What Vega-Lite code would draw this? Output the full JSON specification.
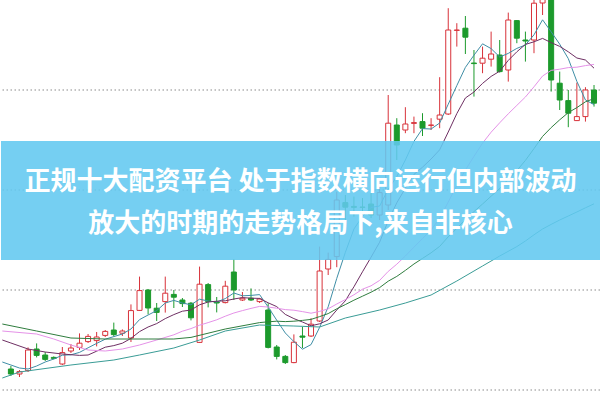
{
  "$schema": "https://vega.github.io/schema/vega-lite/v6.json",
  "width": 601,
  "height": 401,
  "padding": 0,
  "autosize": {"type": "fit", "contains": "padding"},
  "background": "white",
  "config": {"view": {"stroke": null}, "axisX": {"disable": true}, "axisY": {"disable": true}},
  "datasets": {
    "grid": [{"p": 5.5}, {"p": 5.0}, {"p": 4.5}, {"p": 4.0}],
    "banner": [{"top": 5.245, "bottom": 4.65}],
    "title": [
      {"line": "正规十大配资平台 处于指数横向运行但内部波动", "p": 5.04},
      {"line": "放大的时期的走势格局下,来自非核心", "p": 4.83}
    ],
    "candles": [
      {"i":0,"o":4.105,"c":4.08,"h":4.12,"l":4.07},
      {"i":1,"o":4.08,"c":4.092,"h":4.1,"l":4.065},
      {"i":2,"o":4.097,"c":4.2,"h":4.213,"l":4.09},
      {"i":3,"o":4.205,"c":4.173,"h":4.233,"l":4.163},
      {"i":4,"o":4.175,"c":4.153,"h":4.19,"l":4.145},
      {"i":5,"o":4.163,"c":4.158,"h":4.168,"l":4.153},
      {"i":6,"o":4.13,"c":4.187,"h":4.215,"l":4.125},
      {"i":7,"o":4.195,"c":4.21,"h":4.23,"l":4.185},
      {"i":8,"o":4.213,"c":4.234,"h":4.283,"l":4.2},
      {"i":9,"o":4.242,"c":4.268,"h":4.28,"l":4.235},
      {"i":10,"o":4.247,"c":4.265,"h":4.29,"l":4.218},
      {"i":11,"o":4.273,"c":4.293,"h":4.3,"l":4.265},
      {"i":12,"o":4.3,"c":4.277,"h":4.337,"l":4.267},
      {"i":13,"o":4.284,"c":4.295,"h":4.303,"l":4.27},
      {"i":14,"o":4.26,"c":4.397,"h":4.428,"l":4.24},
      {"i":15,"o":4.398,"c":4.497,"h":4.567,"l":4.395},
      {"i":16,"o":4.5,"c":4.41,"h":4.505,"l":4.378},
      {"i":17,"o":4.409,"c":4.388,"h":4.435,"l":4.345},
      {"i":18,"o":4.442,"c":4.484,"h":4.567,"l":4.387},
      {"i":19,"o":4.478,"c":4.464,"h":4.5,"l":4.41},
      {"i":20,"o":4.45,"c":4.432,"h":4.46,"l":4.415},
      {"i":21,"o":4.434,"c":4.361,"h":4.44,"l":4.348},
      {"i":22,"o":4.238,"c":4.529,"h":4.617,"l":4.235},
      {"i":23,"o":4.527,"c":4.442,"h":4.535,"l":4.413},
      {"i":24,"o":4.44,"c":4.435,"h":4.465,"l":4.388},
      {"i":25,"o":4.437,"c":4.519,"h":4.546,"l":4.433},
      {"i":26,"o":4.59,"c":4.5,"h":4.655,"l":4.45},
      {"i":27,"o":4.45,"c":4.459,"h":4.49,"l":4.445},
      {"i":28,"o":4.459,"c":4.45,"h":4.508,"l":4.445},
      {"i":29,"o":4.442,"c":4.455,"h":4.46,"l":4.435},
      {"i":30,"o":4.4,"c":4.213,"h":4.434,"l":4.208},
      {"i":31,"o":4.215,"c":4.168,"h":4.225,"l":4.153},
      {"i":32,"o":4.168,"c":4.137,"h":4.175,"l":4.13},
      {"i":33,"o":4.137,"c":4.239,"h":4.278,"l":4.134},
      {"i":34,"o":4.27,"c":4.264,"h":4.315,"l":4.21},
      {"i":35,"o":4.27,"c":4.329,"h":4.359,"l":4.265},
      {"i":36,"o":4.345,"c":4.595,"h":4.717,"l":4.34},
      {"i":37,"o":4.605,"c":4.653,"h":4.687,"l":4.575},
      {"i":38,"o":4.667,"c":4.95,"h":4.992,"l":4.614},
      {"i":39,"o":4.937,"c":4.914,"h":4.975,"l":4.85},
      {"i":40,"o":4.918,"c":4.913,"h":4.967,"l":4.867},
      {"i":41,"o":4.915,"c":4.913,"h":4.96,"l":4.875},
      {"i":42,"o":4.93,"c":4.875,"h":4.985,"l":4.86},
      {"i":43,"o":4.875,"c":4.987,"h":5.025,"l":4.85},
      {"i":44,"o":4.925,"c":5.334,"h":5.475,"l":4.9},
      {"i":45,"o":5.325,"c":5.225,"h":5.359,"l":5.15},
      {"i":46,"o":5.3,"c":5.33,"h":5.414,"l":5.284},
      {"i":47,"o":5.333,"c":5.337,"h":5.367,"l":5.284},
      {"i":48,"o":5.342,"c":5.309,"h":5.384,"l":5.27},
      {"i":49,"o":5.323,"c":5.325,"h":5.359,"l":5.3},
      {"i":50,"o":5.354,"c":5.375,"h":5.564,"l":5.309},
      {"i":51,"o":5.38,"c":5.8,"h":5.909,"l":5.375},
      {"i":52,"o":5.798,"c":5.8,"h":5.834,"l":5.717},
      {"i":53,"o":5.809,"c":5.764,"h":5.87,"l":5.68},
      {"i":54,"o":5.635,"c":5.632,"h":5.7,"l":5.467},
      {"i":55,"o":5.634,"c":5.659,"h":5.717,"l":5.584},
      {"i":56,"o":5.654,"c":5.68,"h":5.792,"l":5.617},
      {"i":57,"o":5.675,"c":5.592,"h":5.75,"l":5.587},
      {"i":58,"o":5.6,"c":5.85,"h":5.887,"l":5.542},
      {"i":59,"o":5.847,"c":5.759,"h":5.85,"l":5.734},
      {"i":60,"o":5.75,"c":5.745,"h":5.792,"l":5.642},
      {"i":61,"o":5.75,"c":5.934,"h":5.965,"l":5.684},
      {"i":62,"o":5.935,"c":5.965,"h":5.99,"l":5.875},
      {"i":63,"o":5.975,"c":5.55,"h":6.0,"l":5.492},
      {"i":64,"o":5.534,"c":5.45,"h":5.592,"l":5.4},
      {"i":65,"o":5.447,"c":5.384,"h":5.5,"l":5.314},
      {"i":66,"o":5.347,"c":5.367,"h":5.537,"l":5.345},
      {"i":67,"o":5.367,"c":5.5,"h":5.514,"l":5.342},
      {"i":68,"o":5.5,"c":5.434,"h":5.525,"l":5.417}
    ],
    "ma": [
      {"ma":"MA5","i":-1,"p":4.14},{"ma":"MA5","i":0,"p":4.125},{"ma":"MA5","i":1,"p":4.11},{"ma":"MA5","i":2,"p":4.105},{"ma":"MA5","i":3,"p":4.12},{"ma":"MA5","i":4,"p":4.14},{"ma":"MA5","i":5,"p":4.155},{"ma":"MA5","i":6,"p":4.174},{"ma":"MA5","i":7,"p":4.176},{"ma":"MA5","i":8,"p":4.188},{"ma":"MA5","i":9,"p":4.211},{"ma":"MA5","i":10,"p":4.233},{"ma":"MA5","i":11,"p":4.254},{"ma":"MA5","i":12,"p":4.267},{"ma":"MA5","i":13,"p":4.28},{"ma":"MA5","i":14,"p":4.305},{"ma":"MA5","i":15,"p":4.352},{"ma":"MA5","i":16,"p":4.375},{"ma":"MA5","i":17,"p":4.397},{"ma":"MA5","i":18,"p":4.435},{"ma":"MA5","i":19,"p":4.448},{"ma":"MA5","i":20,"p":4.435},{"ma":"MA5","i":21,"p":4.426},{"ma":"MA5","i":22,"p":4.454},{"ma":"MA5","i":23,"p":4.445},{"ma":"MA5","i":24,"p":4.44},{"ma":"MA5","i":25,"p":4.457},{"ma":"MA5","i":26,"p":4.485},{"ma":"MA5","i":27,"p":4.471},{"ma":"MA5","i":28,"p":4.473},{"ma":"MA5","i":29,"p":4.477},{"ma":"MA5","i":30,"p":4.415},{"ma":"MA5","i":31,"p":4.349},{"ma":"MA5","i":32,"p":4.285},{"ma":"MA5","i":33,"p":4.242},{"ma":"MA5","i":34,"p":4.204},{"ma":"MA5","i":35,"p":4.227},{"ma":"MA5","i":36,"p":4.313},{"ma":"MA5","i":37,"p":4.416},{"ma":"MA5","i":38,"p":4.558},{"ma":"MA5","i":39,"p":4.688},{"ma":"MA5","i":40,"p":4.805},{"ma":"MA5","i":41,"p":4.868},{"ma":"MA5","i":42,"p":4.913},{"ma":"MA5","i":43,"p":4.92},{"ma":"MA5","i":44,"p":5.004},{"ma":"MA5","i":45,"p":5.067},{"ma":"MA5","i":46,"p":5.15},{"ma":"MA5","i":47,"p":5.243},{"ma":"MA5","i":48,"p":5.307},{"ma":"MA5","i":49,"p":5.305},{"ma":"MA5","i":50,"p":5.335},{"ma":"MA5","i":51,"p":5.429},{"ma":"MA5","i":52,"p":5.522},{"ma":"MA5","i":53,"p":5.613},{"ma":"MA5","i":54,"p":5.674},{"ma":"MA5","i":55,"p":5.731},{"ma":"MA5","i":56,"p":5.707},{"ma":"MA5","i":57,"p":5.665},{"ma":"MA5","i":58,"p":5.683},{"ma":"MA5","i":59,"p":5.708},{"ma":"MA5","i":60,"p":5.725},{"ma":"MA5","i":61,"p":5.776},{"ma":"MA5","i":62,"p":5.851},{"ma":"MA5","i":63,"p":5.791},{"ma":"MA5","i":64,"p":5.729},{"ma":"MA5","i":65,"p":5.657},{"ma":"MA5","i":66,"p":5.543},{"ma":"MA5","i":67,"p":5.45},{"ma":"MA5","i":68,"p":5.427},
      {"ma":"MA10","i":-1,"p":4.25},{"ma":"MA10","i":0,"p":4.235},{"ma":"MA10","i":2,"p":4.205},{"ma":"MA10","i":4,"p":4.19},{"ma":"MA10","i":6,"p":4.18},{"ma":"MA10","i":8,"p":4.173},{"ma":"MA10","i":9,"p":4.175},{"ma":"MA10","i":10,"p":4.194},{"ma":"MA10","i":11,"p":4.214},{"ma":"MA10","i":12,"p":4.222},{"ma":"MA10","i":13,"p":4.234},{"ma":"MA10","i":14,"p":4.258},{"ma":"MA10","i":15,"p":4.292},{"ma":"MA10","i":16,"p":4.315},{"ma":"MA10","i":17,"p":4.332},{"ma":"MA10","i":18,"p":4.357},{"ma":"MA10","i":19,"p":4.377},{"ma":"MA10","i":20,"p":4.394},{"ma":"MA10","i":21,"p":4.4},{"ma":"MA10","i":22,"p":4.426},{"ma":"MA10","i":23,"p":4.44},{"ma":"MA10","i":24,"p":4.444},{"ma":"MA10","i":25,"p":4.446},{"ma":"MA10","i":26,"p":4.455},{"ma":"MA10","i":27,"p":4.462},{"ma":"MA10","i":28,"p":4.459},{"ma":"MA10","i":29,"p":4.458},{"ma":"MA10","i":30,"p":4.436},{"ma":"MA10","i":31,"p":4.417},{"ma":"MA10","i":32,"p":4.378},{"ma":"MA10","i":33,"p":4.357},{"ma":"MA10","i":34,"p":4.34},{"ma":"MA10","i":35,"p":4.321},{"ma":"MA10","i":36,"p":4.331},{"ma":"MA10","i":37,"p":4.35},{"ma":"MA10","i":38,"p":4.4},{"ma":"MA10","i":39,"p":4.446},{"ma":"MA10","i":40,"p":4.516},{"ma":"MA10","i":41,"p":4.591},{"ma":"MA10","i":42,"p":4.664},{"ma":"MA10","i":43,"p":4.739},{"ma":"MA10","i":44,"p":4.846},{"ma":"MA10","i":45,"p":4.936},{"ma":"MA10","i":46,"p":5.009},{"ma":"MA10","i":47,"p":5.078},{"ma":"MA10","i":48,"p":5.114},{"ma":"MA10","i":49,"p":5.155},{"ma":"MA10","i":50,"p":5.201},{"ma":"MA10","i":51,"p":5.29},{"ma":"MA10","i":52,"p":5.382},{"ma":"MA10","i":53,"p":5.46},{"ma":"MA10","i":54,"p":5.49},{"ma":"MA10","i":55,"p":5.533},{"ma":"MA10","i":56,"p":5.568},{"ma":"MA10","i":57,"p":5.594},{"ma":"MA10","i":58,"p":5.648},{"ma":"MA10","i":59,"p":5.691},{"ma":"MA10","i":60,"p":5.728},{"ma":"MA10","i":61,"p":5.741},{"ma":"MA10","i":62,"p":5.758},{"ma":"MA10","i":63,"p":5.737},{"ma":"MA10","i":64,"p":5.718},{"ma":"MA10","i":65,"p":5.691},{"ma":"MA10","i":66,"p":5.66},{"ma":"MA10","i":67,"p":5.65},{"ma":"MA10","i":68,"p":5.609},
      {"ma":"MA20","i":-1,"p":4.295},{"ma":"MA20","i":3,"p":4.28},{"ma":"MA20","i":5,"p":4.255},{"ma":"MA20","i":7,"p":4.225},{"ma":"MA20","i":9,"p":4.2},{"ma":"MA20","i":11,"p":4.195},{"ma":"MA20","i":13,"p":4.205},{"ma":"MA20","i":15,"p":4.225},{"ma":"MA20","i":17,"p":4.25},{"ma":"MA20","i":19,"p":4.276},{"ma":"MA20","i":20,"p":4.294},{"ma":"MA20","i":21,"p":4.307},{"ma":"MA20","i":22,"p":4.324},{"ma":"MA20","i":23,"p":4.337},{"ma":"MA20","i":24,"p":4.351},{"ma":"MA20","i":25,"p":4.369},{"ma":"MA20","i":26,"p":4.385},{"ma":"MA20","i":27,"p":4.397},{"ma":"MA20","i":28,"p":4.408},{"ma":"MA20","i":29,"p":4.418},{"ma":"MA20","i":30,"p":4.415},{"ma":"MA20","i":31,"p":4.409},{"ma":"MA20","i":32,"p":4.402},{"ma":"MA20","i":33,"p":4.399},{"ma":"MA20","i":34,"p":4.392},{"ma":"MA20","i":35,"p":4.384},{"ma":"MA20","i":36,"p":4.393},{"ma":"MA20","i":37,"p":4.406},{"ma":"MA20","i":38,"p":4.43},{"ma":"MA20","i":39,"p":4.452},{"ma":"MA20","i":40,"p":4.476},{"ma":"MA20","i":41,"p":4.504},{"ma":"MA20","i":42,"p":4.521},{"ma":"MA20","i":43,"p":4.548},{"ma":"MA20","i":44,"p":4.593},{"ma":"MA20","i":45,"p":4.629},{"ma":"MA20","i":46,"p":4.67},{"ma":"MA20","i":47,"p":4.714},{"ma":"MA20","i":48,"p":4.757},{"ma":"MA20","i":49,"p":4.8},{"ma":"MA20","i":50,"p":4.859},{"ma":"MA20","i":51,"p":4.94},{"ma":"MA20","i":52,"p":5.023},{"ma":"MA20","i":53,"p":5.1},{"ma":"MA20","i":54,"p":5.168},{"ma":"MA20","i":55,"p":5.234},{"ma":"MA20","i":56,"p":5.289},{"ma":"MA20","i":57,"p":5.336},{"ma":"MA20","i":58,"p":5.381},{"ma":"MA20","i":59,"p":5.423},{"ma":"MA20","i":60,"p":5.465},{"ma":"MA20","i":61,"p":5.516},{"ma":"MA20","i":62,"p":5.57},{"ma":"MA20","i":63,"p":5.598},{"ma":"MA20","i":64,"p":5.604},{"ma":"MA20","i":65,"p":5.612},{"ma":"MA20","i":66,"p":5.614},{"ma":"MA20","i":67,"p":5.622},{"ma":"MA20","i":68,"p":5.628},
      {"ma":"MA30","i":-1,"p":4.33},{"ma":"MA30","i":3,"p":4.295},{"ma":"MA30","i":7,"p":4.26},{"ma":"MA30","i":11,"p":4.255},{"ma":"MA30","i":16,"p":4.255},{"ma":"MA30","i":19,"p":4.255},{"ma":"MA30","i":21,"p":4.263},{"ma":"MA30","i":25,"p":4.305},{"ma":"MA30","i":29,"p":4.337},{"ma":"MA30","i":30,"p":4.341},{"ma":"MA30","i":31,"p":4.344},{"ma":"MA30","i":32,"p":4.342},{"ma":"MA30","i":33,"p":4.344},{"ma":"MA30","i":34,"p":4.348},{"ma":"MA30","i":35,"p":4.353},{"ma":"MA30","i":36,"p":4.367},{"ma":"MA30","i":37,"p":4.382},{"ma":"MA30","i":38,"p":4.406},{"ma":"MA30","i":39,"p":4.427},{"ma":"MA30","i":40,"p":4.449},{"ma":"MA30","i":41,"p":4.469},{"ma":"MA30","i":42,"p":4.489},{"ma":"MA30","i":43,"p":4.512},{"ma":"MA30","i":44,"p":4.544},{"ma":"MA30","i":45,"p":4.568},{"ma":"MA30","i":46,"p":4.598},{"ma":"MA30","i":47,"p":4.63},{"ma":"MA30","i":48,"p":4.658},{"ma":"MA30","i":49,"p":4.686},{"ma":"MA30","i":50,"p":4.718},{"ma":"MA30","i":51,"p":4.766},{"ma":"MA30","i":52,"p":4.808},{"ma":"MA30","i":53,"p":4.852},{"ma":"MA30","i":54,"p":4.892},{"ma":"MA30","i":55,"p":4.93},{"ma":"MA30","i":56,"p":4.969},{"ma":"MA30","i":57,"p":5.007},{"ma":"MA30","i":58,"p":5.054},{"ma":"MA30","i":59,"p":5.097},{"ma":"MA30","i":60,"p":5.148},{"ma":"MA30","i":61,"p":5.207},{"ma":"MA30","i":62,"p":5.268},{"ma":"MA30","i":63,"p":5.312},{"ma":"MA30","i":64,"p":5.351},{"ma":"MA30","i":65,"p":5.387},{"ma":"MA30","i":66,"p":5.412},{"ma":"MA30","i":67,"p":5.441},{"ma":"MA30","i":68,"p":5.457},
      {"ma":"MA60","i":-1,"p":4.06},{"ma":"MA60","i":1,"p":4.09},{"ma":"MA60","i":7,"p":4.125},{"ma":"MA60","i":12,"p":4.15},{"ma":"MA60","i":15,"p":4.175},{"ma":"MA60","i":19,"p":4.21},{"ma":"MA60","i":22,"p":4.25},{"ma":"MA60","i":25,"p":4.295},{"ma":"MA60","i":29,"p":4.325},{"ma":"MA60","i":33,"p":4.32},{"ma":"MA60","i":36,"p":4.315},{"ma":"MA60","i":39,"p":4.36},{"ma":"MA60","i":43,"p":4.4},{"ma":"MA60","i":46,"p":4.435},{"ma":"MA60","i":49,"p":4.475},{"ma":"MA60","i":52,"p":4.545},{"ma":"MA60","i":55,"p":4.62},{"ma":"MA60","i":57,"p":4.67},{"ma":"MA60","i":59,"p":4.717},{"ma":"MA60","i":60,"p":4.745},{"ma":"MA60","i":61,"p":4.776},{"ma":"MA60","i":62,"p":4.805},{"ma":"MA60","i":63,"p":4.828},{"ma":"MA60","i":64,"p":4.85},{"ma":"MA60","i":65,"p":4.87},{"ma":"MA60","i":66,"p":4.89},{"ma":"MA60","i":67,"p":4.911},{"ma":"MA60","i":68,"p":4.931}
    ]
  },
  "layer": [
    {
      "data": {"name": "grid"},
      "mark": {"type": "rule", "stroke": "#8a8a8a", "strokeWidth": 1, "strokeDash": [1.5, 2.5]},
      "encoding": {
        "y": {"field": "p", "type": "quantitative", "axis": null, "scale": {"domain": [3.945, 5.95], "nice": false, "zero": false}}
      }
    },
    {
      "data": {"name": "candles"},
      "mark": {"type": "rule", "strokeWidth": 1, "clip": true},
      "encoding": {
        "x": {"field": "i", "type": "quantitative", "axis": null, "scale": {"domain": [-0.5714, 68.1143], "nice": false, "zero": false}},
        "y": {"field": "l", "type": "quantitative", "axis": null, "scale": {"domain": [3.945, 5.95], "nice": false, "zero": false}},
        "y2": {"field": "h"},
        "color": {"condition": {"test": "datum.c >= datum.o", "value": "#d8323a"}, "value": "#1c9a2c"}
      }
    },
    {
      "data": {"name": "candles"},
      "mark": {"type": "bar", "size": 5, "strokeWidth": 1, "clip": true},
      "encoding": {
        "x": {"field": "i", "type": "quantitative", "axis": null, "scale": {"domain": [-0.5714, 68.1143], "nice": false, "zero": false}},
        "y": {"field": "o", "type": "quantitative", "axis": null, "scale": {"domain": [3.945, 5.95], "nice": false, "zero": false}},
        "y2": {"field": "c"},
        "fill": {"condition": {"test": "datum.c >= datum.o", "value": "#ffffff"}, "value": "#1c9a2c"},
        "stroke": {"condition": {"test": "datum.c >= datum.o", "value": "#d8323a"}, "value": "#1c9a2c"}
      }
    },
    {
      "data": {"name": "ma"},
      "mark": {"type": "line", "strokeWidth": 1, "clip": true},
      "encoding": {
        "x": {"field": "i", "type": "quantitative", "axis": null, "scale": {"domain": [-0.5714, 68.1143], "nice": false, "zero": false}},
        "y": {"field": "p", "type": "quantitative", "axis": null, "scale": {"domain": [3.945, 5.95], "nice": false, "zero": false}},
        "color": {"field": "ma", "type": "nominal", "legend": null, "scale": {"domain": ["MA5", "MA10", "MA20", "MA30", "MA60"], "range": ["#3f8ea6", "#6e2f63", "#e592e8", "#2f7d3e", "#3a9c96"]}},
        "order": {"field": "i", "type": "quantitative"}
      }
    },
    {
      "data": {"name": "banner"},
      "mark": {"type": "rect", "fill": "#62c8f0", "opacity": 0.88, "clip": true},
      "encoding": {
        "x": {"datum": -2},
        "x2": {"datum": 70},
        "y": {"field": "top", "type": "quantitative"},
        "y2": {"field": "bottom"}
      }
    },
    {
      "data": {"name": "title"},
      "mark": {"type": "text", "font": "Noto Sans CJK SC", "fontWeight": "bold", "fontSize": 26, "fill": "#ffffff", "align": "center", "baseline": "middle"},
      "encoding": {
        "x": {"datum": 33.77},
        "y": {"field": "p", "type": "quantitative"},
        "text": {"field": "line"}
      }
    }
  ]
}
